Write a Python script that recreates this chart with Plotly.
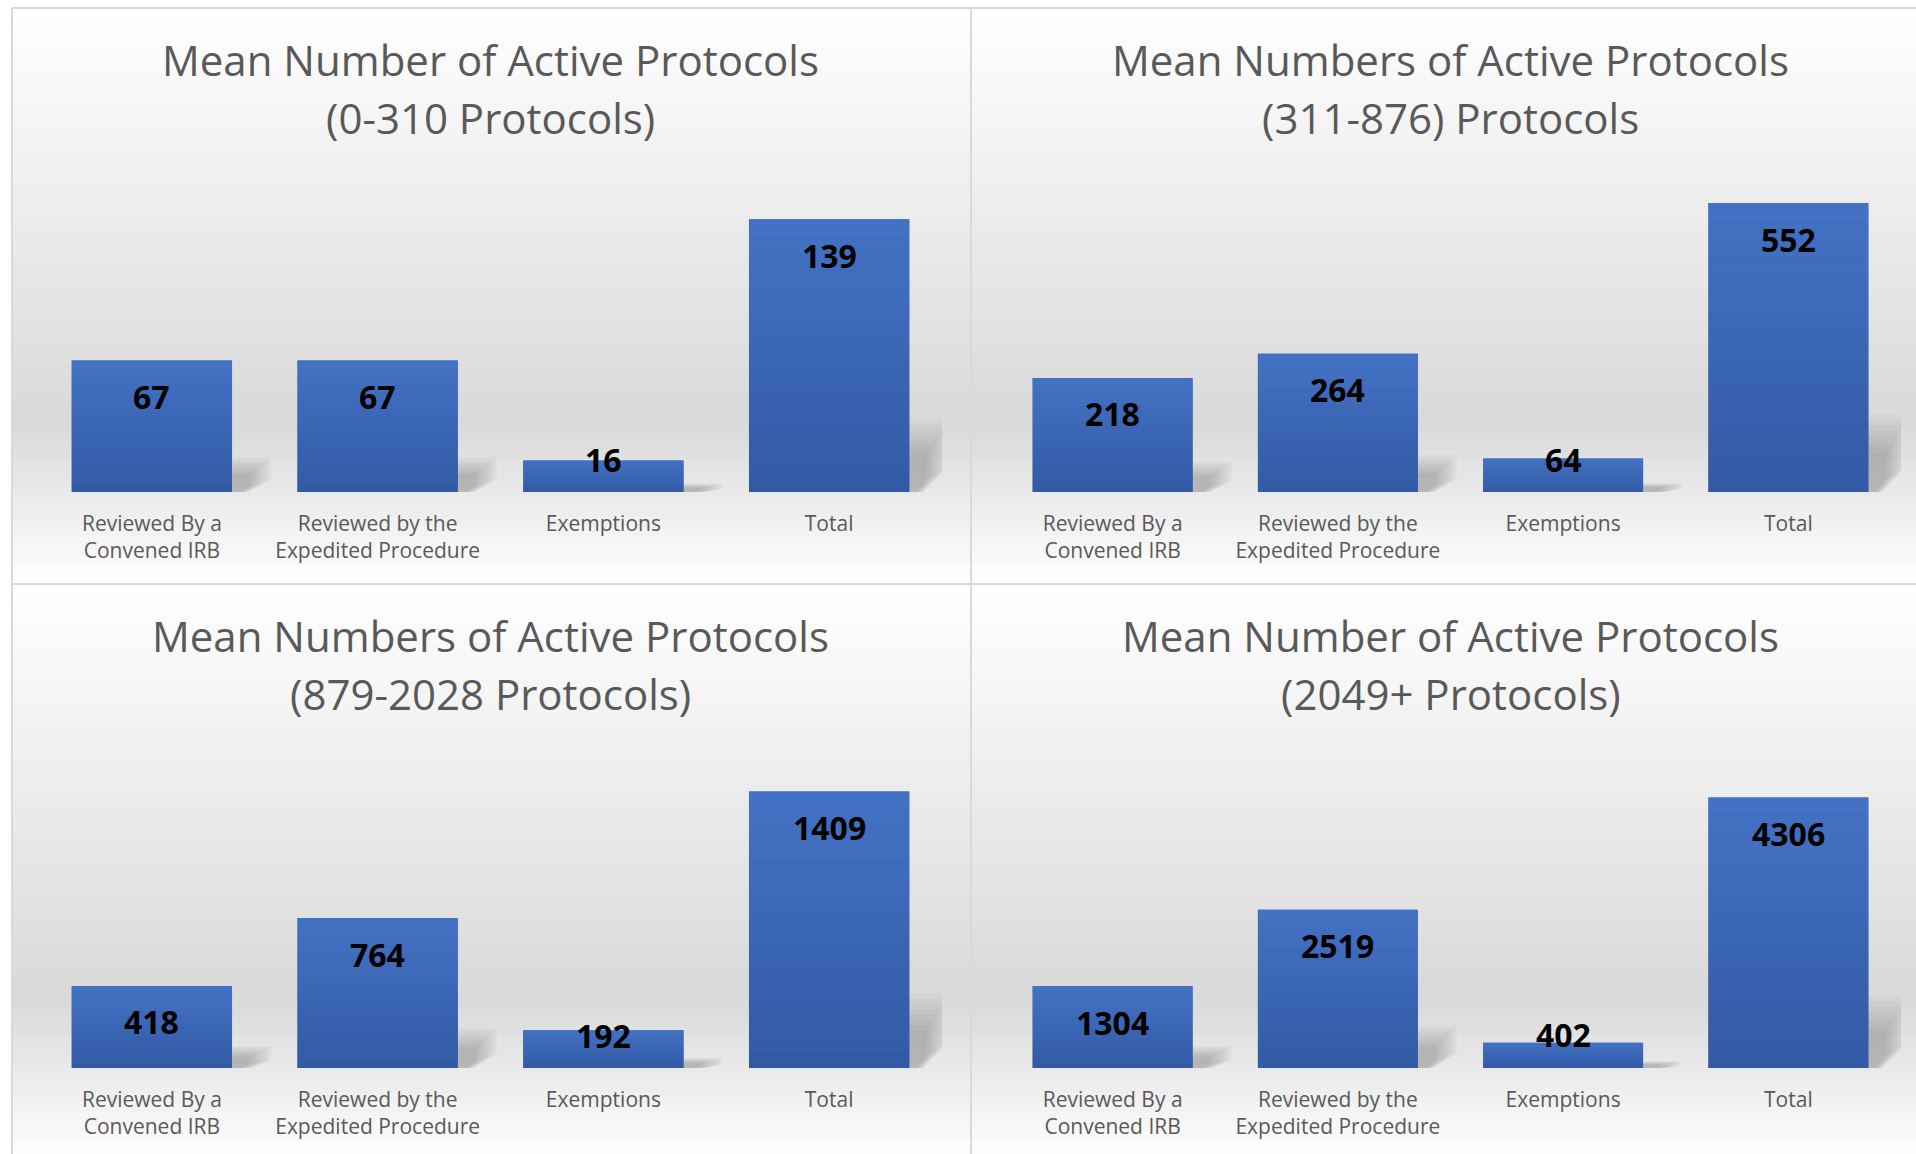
import plotly.graph_objects as go

# categories shared by the four panels
categories = ["Reviewed By a<br>Convened IRB", "Reviewed by the<br>Expedited Procedure", "Exemptions", "Total"]

# mean numbers per institution size group
small_vals = [67, 67, 16, 139]
medium_vals = [218, 264, 64, 552]
large_vals = [418, 764, 192, 1409]
xlarge_vals = [1304, 2519, 402, 4306]

titles = [
    ("Mean Number of Active Protocols", "(0-310 Protocols)"),
    ("Mean Numbers of Active Protocols", "(311-876) Protocols"),
    ("Mean Numbers of Active Protocols", "(879-2028 Protocols)"),
    ("Mean Number of Active Protocols", "(2049+ Protocols)"),
]
y_max = [160, 600, 1600, 5000]

W, H = 1916, 1154
PLOT_H = 314  # plot area height in px
BARGAP = 0.29
BAR_TOP = (68, 114, 196)     # light blue at the top of a bar
BAR_BOTTOM = (50, 90, 164)   # darker blue at the base


def px(x):
    return x / W


def py(y):
    return 1 - y / H


def mix(c1, c2, t):
    return "rgb(%d,%d,%d)" % tuple(round(a + (b - a) * t) for a, b in zip(c1, c2))


# panel boxes in px: (left, top, right, bottom), plot area x-range, baseline
panels = [
    dict(box=(12, 8, 971, 584), xdom=(39, 942), base=492),
    dict(box=(971, 8, 1930, 584), xdom=(1000, 1901), base=492),
    dict(box=(12, 584, 971, 1160), xdom=(39, 942), base=1068),
    dict(box=(971, 584, 1930, 1160), xdom=(1000, 1901), base=1068),
]

fig = go.Figure()
shapes = []
annotations = []
all_vals = [small_vals, medium_vals, large_vals, xlarge_vals]
half = (1 - BARGAP) / 2

for i, (vals, p) in enumerate(zip(all_vals, panels)):
    n = "" if i == 0 else str(i + 1)
    left, top, right, bottom = p["box"]

    # background gradient: white -> light grey -> white
    bands = 60
    for b in range(bands):
        t = (b + 0.5) / bands
        if t < 0.72:
            g = 255 - 38 * t / 0.72
        else:
            g = 217 + 38 * (t - 0.72) / 0.28
        g = int(round(g))
        y0 = top + (bottom - top) * b / bands
        y1 = top + (bottom - top) * (b + 1) / bands
        shapes.append(dict(type="rect", xref="paper", yref="paper", layer="below",
                           x0=px(left), x1=px(min(right, W)), y0=py(y1 + 0.5), y1=py(y0),
                           fillcolor=f"rgb({g},{g},{g})", line=dict(width=0)))

    # soft perspective shadow to the right of each bar
    for k, v in enumerate(vals):
        s = 0.27 * v * PLOT_H / y_max[i]
        for layer in range(8):
            d = 18 + 3 * layer
            sh = s * (0.5 + 0.07 * layer)
            path = (f"M-2,0 L-2,{sh:.1f} L{d},{sh:.1f} L{d},{sh * 0.35:.1f} "
                    f"L{d * 0.3:.1f},-3 Z")
            shapes.append(dict(type="path", xref="x" + n, yref="y" + n, layer="below",
                               xsizemode="pixel", ysizemode="pixel",
                               xanchor=k + half, yanchor=0, path=path,
                               fillcolor="rgba(0,0,0,0.028)", line=dict(width=0)))

    fig.add_trace(go.Bar(
        x=categories, y=vals, xaxis="x" + n, yaxis="y" + n,
        marker=dict(color=mix(BAR_BOTTOM, BAR_TOP, 0.5), line=dict(width=0)),
        hoverinfo="x+y", showlegend=False,
    ))

    # vertical gradient laid over each bar
    steps = 16
    for k, v in enumerate(vals):
        for j in range(steps):
            shapes.append(dict(type="rect", xref="x" + n, yref="y" + n, layer="above",
                               x0=k - half, x1=k + half,
                               y0=v * j / steps, y1=v * (j + 1) / steps,
                               fillcolor=mix(BAR_BOTTOM, BAR_TOP, (j + 0.5) / steps),
                               line=dict(width=0)))

    fig.layout["xaxis" + n] = dict(
        domain=[px(p["xdom"][0]), px(p["xdom"][1])], anchor="y" + n,
        range=[-0.5, len(categories) - 0.5], type="category",
        showgrid=False, zeroline=False, showline=False, ticks="",
        tickfont=dict(family="Open Sans", size=21, color="#595959"),
        ticklabelstandoff=17, fixedrange=True,
    )
    fig.layout["yaxis" + n] = dict(
        domain=[py(p["base"]), py(p["base"] - PLOT_H)], anchor="x" + n,
        range=[0, y_max[i]], visible=False, fixedrange=True,
    )

    # data labels near the top of each bar
    for cat, v in zip(categories, vals):
        h = v * PLOT_H / y_max[i]
        c = max(h - 36, 33)
        annotations.append(dict(
            x=cat, y=v, xref="x" + n, yref="y" + n, text=str(v), showarrow=False,
            yanchor="middle", yshift=c - h,
            font=dict(family="Open Sans", size=32, color="#000000", weight="bold"),
        ))

    # two-line title
    cx = (p["xdom"][0] + p["xdom"][1]) / 2
    for line, yy in zip(titles[i], (top + 51, top + 109)):
        annotations.append(dict(
            x=px(cx), y=py(yy), xref="paper", yref="paper", text=line, showarrow=False,
            xanchor="center", yanchor="middle",
            font=dict(family="Open Sans", size=42, color="#595959"),
        ))

# panel borders
for x0, y0, x1, y1 in [(12, 8, 12, 1154), (12, 8, 1916, 8), (971, 8, 971, 1154), (12, 584, 1916, 584)]:
    shapes.append(dict(type="line", xref="paper", yref="paper", x0=px(x0), y0=py(y0), x1=px(x1), y1=py(y1),
                       line=dict(color="#d9d9d9", width=2)))

fig.update_layout(
    width=W, height=H,
    margin=dict(l=0, r=0, t=0, b=0),
    paper_bgcolor="white", plot_bgcolor="rgba(0,0,0,0)",
    bargap=BARGAP,
    shapes=shapes, annotations=annotations,
    font=dict(family="Open Sans"),
)

fig.write_html("out.html", config={"displayModeBar": False},
               post_script="document.body.style.margin='0';")
